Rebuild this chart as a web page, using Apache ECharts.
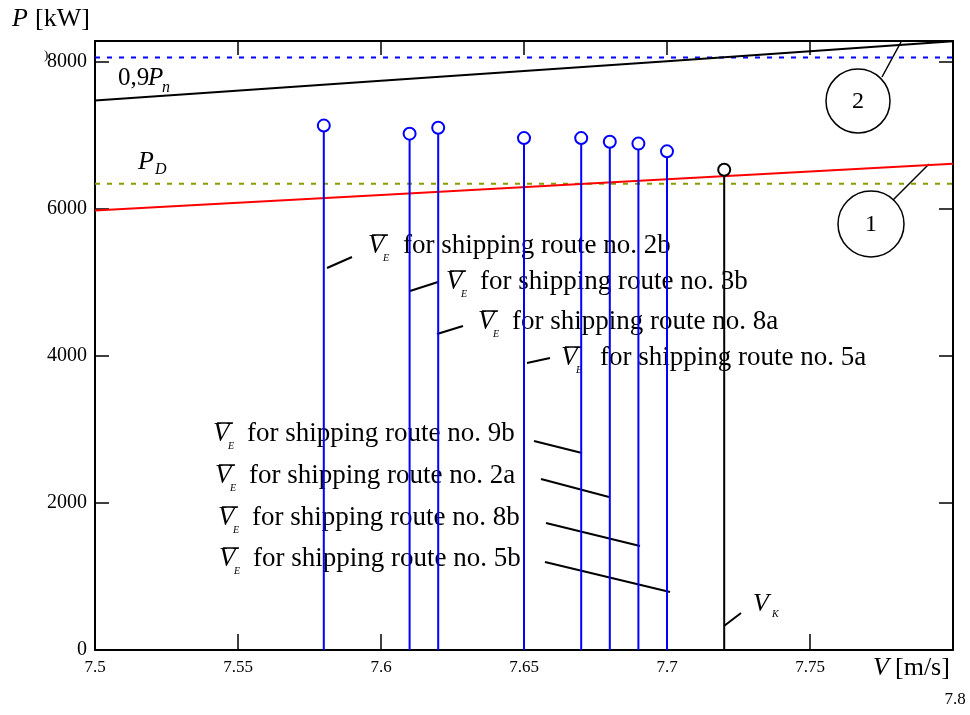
<!DOCTYPE html>
<html>
<head>
<meta charset="utf-8">
<script src="https://cdn.jsdelivr.net/npm/echarts@6/dist/echarts.min.js"></script>
<style>
html,body{margin:0;padding:0;background:#fff;}
#chart{width:970px;height:715px;}
</style>
</head>
<body>
<div id="chart"></div>
<script>
// ---- data ----
const xTickLabels = [7.5, 7.55, 7.6, 7.65, 7.7, 7.75];
const yTickLabels = [0, 2000, 4000, 6000, 8000];
const stemSpeeds = [7.58, 7.61, 7.62, 7.65, 7.67, 7.68, 7.69, 7.70];
const stemPowers = [7130, 7020, 7100, 6960, 6960, 6910, 6885, 6780];
const routeNames = ['2b', '3b', '8a', '5a', '9b', '2a', '8b', '5b'];
const vkSpeeds = [7.72];
const vkPowers = [6530];
const curveSpeeds = [7.5, 7.6, 7.7, 7.8];
const curve1Powers = [5975, 6187, 6400, 6612];
const curve2Powers = [7470, 7740, 8005, 8276];
const pnLevel = [8055, 8055];
const pdLevel = [6340, 6340];
const levelSpeeds = [7.5, 7.8];

// ---- layout of annotations (pixels) ----
const FONT = '"Liberation Serif", "Times New Roman", serif';
const routeLayout = [
  {vx: 368, y: 246, fx: 403, l: [327, 268, 352, 257]},
  {vx: 446, y: 282, fx: 480, l: [410, 291, 438, 282]},
  {vx: 478, y: 322, fx: 512, l: [437, 334, 463, 326]},
  {vx: 561, y: 358, fx: 600, l: [527, 363, 550, 358]},
  {vx: 213, y: 434, fx: 247, l: [534, 441, 582, 453]},
  {vx: 215, y: 476, fx: 249, l: [541, 479, 609, 497]},
  {vx: 218, y: 518, fx: 252, l: [546, 523, 640, 546]},
  {vx: 219, y: 559, fx: 253, l: [545, 562, 670, 592]}
];

function txt(text, x, y, size, opts) {
  opts = opts || {};
  return {
    type: 'text', z: 1,
    style: {
      text: text, x: x, y: y,
      font: (opts.italic ? 'italic ' : '') + size + 'px ' + FONT,
      fill: opts.color || '#000',
      textAlign: opts.align || 'left', align: opts.align || 'left',
      textVerticalAlign: 'middle', verticalAlign: 'middle'
    }
  };
}
function seg(x1, y1, x2, y2, w) {
  return {type: 'line', z: 1, shape: {x1, y1, x2, y2}, style: {stroke: '#000', lineWidth: w || 1.5}};
}

const graphics = [];
routeNames.forEach((r, i) => {
  const L = routeLayout[i];
  graphics.push(txt('V', L.vx, L.y, 27, {italic: true}));
  graphics.push(seg(L.vx + 4, L.y - 11, L.vx + 20, L.y - 11, 1.5));
  graphics.push(txt('E', L.vx + 15, L.y + 12, 10, {italic: true}));
  graphics.push(txt('for shipping route no. ' + r, L.fx, L.y, 27));
  graphics.push(seg(L.l[0], L.l[1], L.l[2], L.l[3], 2));
});
// V_K
graphics.push(txt('V', 753, 604, 26, {italic: true}));
graphics.push(txt('K', 772, 614, 10, {italic: true}));
graphics.push(seg(724, 626, 741, 613, 2));
// 0,9 Pn
graphics.push(txt('0,9', 118, 78, 25));
graphics.push(txt('P', 148, 78, 25, {italic: true}));
graphics.push(txt('n', 162, 88, 16, {italic: true}));
// P_D
graphics.push(txt('P', 138, 162, 26, {italic: true}));
graphics.push(txt('D', 155, 170, 16, {italic: true}));
// circles
graphics.push({type: 'circle', z: 1, shape: {cx: 858, cy: 101, r: 32}, style: {stroke: '#000', fill: 'transparent', lineWidth: 1.5}});
graphics.push(txt('2', 858, 102, 24, {align: 'center'}));
graphics.push(seg(882, 77, 901, 42, 1.5));
graphics.push({type: 'circle', z: 1, shape: {cx: 871, cy: 224, r: 33}, style: {stroke: '#000', fill: 'transparent', lineWidth: 1.5}});
graphics.push(txt('1', 871, 225, 24, {align: 'center'}));
graphics.push(seg(893, 200, 929, 164, 1.5));
// axis titles
graphics.push(txt('P', 12, 19, 26, {italic: true}));
graphics.push(txt('[kW]', 35, 19, 26));
graphics.push(txt('V', 873, 668, 26, {italic: true}));
graphics.push(txt('[m/s]', 895, 668, 26));
graphics.push(txt('7.8', 955, 700, 17, {align: 'center'}));
graphics.push(txt(')', 44, 56, 13));

function stemRenderer(color) {
  return function (params, api) {
    const p0 = api.coord([api.value(0), 0]);
    const p1 = api.coord([api.value(0), api.value(1)]);
    const r = 6;
    return {
      type: 'group',
      children: [
        {type: 'line', shape: {x1: p0[0], y1: p0[1], x2: p1[0], y2: p1[1] + r}, style: {stroke: color, lineWidth: 2}},
        {type: 'circle', shape: {cx: p1[0], cy: p1[1], r: r}, style: {stroke: color, fill: 'transparent', lineWidth: 2}}
      ]
    };
  };
}

const axisBase = {
  type: 'value',
  axisLine: {show: true, onZero: false, lineStyle: {color: '#000', width: 2}},
  axisTick: {show: true, inside: true, length: 14, lineStyle: {color: '#000', width: 1.5}},
  splitLine: {show: false}
};

const chart = echarts.init(document.getElementById('chart'), null, {renderer: 'canvas'});
chart.setOption({
  animation: false,
  backgroundColor: '#fff',
  grid: {left: 95, right: 17, top: 41, bottom: 65, containLabel: false},
  xAxis: [
    Object.assign({}, axisBase, {
      min: 7.5, max: 7.8, interval: 0.05, position: 'bottom',
      axisTick: {show: true, inside: true, length: 16, lineStyle: {color: '#000', width: 1.5}},
      axisLabel: {
        show: true, margin: 9, color: '#000', fontSize: 17, fontFamily: FONT,
        showMaxLabel: false,
        formatter: v => xTickLabels.some(t => Math.abs(t - v) < 1e-6) ? String(+v.toFixed(2)) : ''
      }
    }),
    Object.assign({}, axisBase, {
      min: 7.5, max: 7.8, interval: 0.05, position: 'top',
      axisLabel: {show: false}
    })
  ],
  yAxis: [
    Object.assign({}, axisBase, {
      min: 0, max: 8280, interval: 2000, position: 'left',
      axisLabel: {
        show: true, margin: 8, color: '#000', fontSize: 20, fontFamily: FONT,
        showMaxLabel: false,
        formatter: v => yTickLabels.indexOf(v) >= 0 ? String(v) : ''
      }
    }),
    Object.assign({}, axisBase, {
      min: 0, max: 8280, interval: 2000, position: 'right',
      axisLabel: {show: false}
    })
  ],
  series: [
    {
      type: 'line', z: 3, symbol: 'none', silent: true,
      data: levelSpeeds.map((x, i) => [x, pnLevel[i]]),
      lineStyle: {color: '#0000ff', width: 2, type: [5, 7]}
    },
    {
      type: 'line', z: 3, symbol: 'none', silent: true,
      data: levelSpeeds.map((x, i) => [x, pdLevel[i]]),
      lineStyle: {color: '#8a9a00', width: 2, type: [5, 7]}
    },
    {
      type: 'line', z: 4, symbol: 'none', silent: true,
      data: curveSpeeds.map((x, i) => [x, curve1Powers[i]]),
      lineStyle: {color: '#ff0000', width: 2}
    },
    {
      type: 'line', z: 4, symbol: 'none', silent: true, clip: true,
      data: curveSpeeds.map((x, i) => [x, curve2Powers[i]]),
      lineStyle: {color: '#000000', width: 2}
    },
    {
      type: 'custom', z: 5, silent: true,
      renderItem: stemRenderer('#0000ff'),
      data: stemSpeeds.map((x, i) => [x, stemPowers[i]])
    },
    {
      type: 'custom', z: 5, silent: true,
      renderItem: stemRenderer('#000000'),
      data: vkSpeeds.map((x, i) => [x, vkPowers[i]])
    }
  ],
  graphic: graphics
});
</script>
</body>
</html>
